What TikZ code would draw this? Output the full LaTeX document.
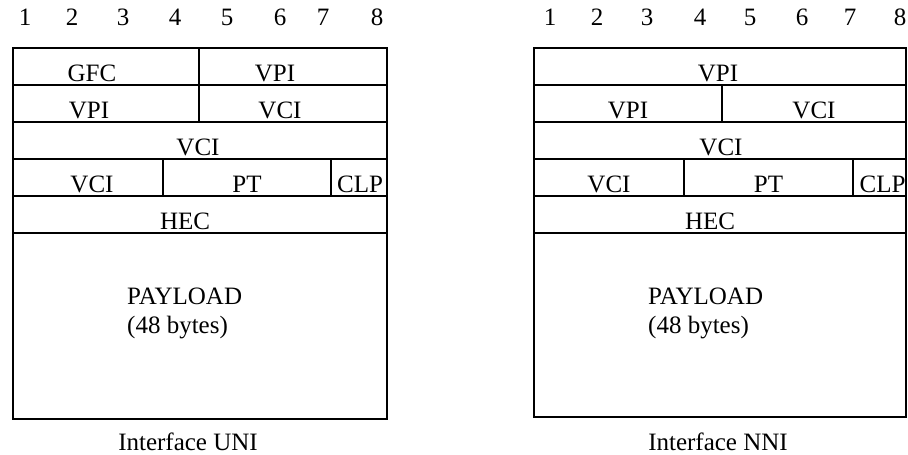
\documentclass[tikz,border=0pt]{standalone}
\usepackage{fontspec}
\setmainfont{Liberation Serif}

\begin{document}
\begin{tikzpicture}[x=1pt,y=-1pt,
  cell/.style={draw=black,line width=1.3pt,anchor=north west,minimum height=37pt,inner sep=0pt,outer sep=0pt},
  fld/.style={font=\fontsize{25}{29}\selectfont,text height=29pt,text depth=0pt,inner sep=0pt},
  txt/.style={font=\fontsize{25}{29}\selectfont,inner sep=0pt}]
\useasboundingbox (0,0) rectangle (908,455);

\foreach \n/\x in {1/25,2/72,3/123,4/175,5/227,6/280,7/323,8/377}
  \node[txt,anchor=base] (numU\n) at (\x,25) {\n};
\foreach \n/\x in {1/550,2/597,3/647,4/700,5/750,6/802,7/850,8/900}
  \node[txt,anchor=base] (numN\n) at (\x,25) {\n};

\node[cell,minimum width=186pt,label={[fld,xshift=-14pt]center:GFC}] (gfcU) at (13,48) {};
\node[cell,minimum width=188pt,label={[fld,xshift=-18pt]center:VPI}] (vpiUa) at (199,48) {};
\node[cell,minimum width=186pt,label={[fld,xshift=-17pt]center:VPI}] (vpiUb) at (13,85) {};
\node[cell,minimum width=188pt,label={[fld,xshift=-13pt]center:VCI}] (vciUa) at (199,85) {};
\node[cell,minimum width=374pt,label={[fld,xshift=-2pt]center:VCI}] (vciUb) at (13,122) {};
\node[cell,minimum width=150pt,label={[fld,xshift=4pt]center:VCI}] (vciUc) at (13,159) {};
\node[cell,minimum width=168pt,label={[fld]center:PT}] (ptU) at (163,159) {};
\node[cell,minimum width=56pt,label={[fld,xshift=1pt]center:CLP}] (clpU) at (331,159) {};
\node[cell,minimum width=374pt,label={[fld,xshift=-15pt]center:HEC}] (hecU) at (13,196) {};
\node[cell,minimum width=374pt,minimum height=186pt] (payU) at (13,233) {};
\node[txt,align=left,anchor=west] (payTxtU) at (127,313) {PAYLOAD\\(48 bytes)};

\node[cell,minimum width=372pt,label={[fld,xshift=-2pt]center:VPI}] (vpiNa) at (534,48) {};
\node[cell,minimum width=188pt,label={[fld]center:VPI}] (vpiNb) at (534,85) {};
\node[cell,minimum width=184pt,label={[fld]center:VCI}] (vciNa) at (722,85) {};
\node[cell,minimum width=372pt,label={[fld,xshift=1pt]center:VCI}] (vciNb) at (534,122) {};
\node[cell,minimum width=150pt,label={[fld]center:VCI}] (vciNc) at (534,159) {};
\node[cell,minimum width=169pt,label={[fld]center:PT}] (ptN) at (684,159) {};
\node[cell,minimum width=53pt,label={[fld,xshift=3pt]center:CLP}] (clpN) at (853,159) {};
\node[cell,minimum width=372pt,label={[fld,xshift=-10pt]center:HEC}] (hecN) at (534,196) {};
\node[cell,minimum width=372pt,minimum height=184pt] (payN) at (534,233) {};
\node[txt,align=left,anchor=west] (payTxtN) at (648,313) {PAYLOAD\\(48 bytes)};

\node[txt,anchor=base] (capU) at (188,450) {Interface UNI};
\node[txt,anchor=base] (capN) at (718,450) {Interface NNI};

\end{tikzpicture}
\end{document}
